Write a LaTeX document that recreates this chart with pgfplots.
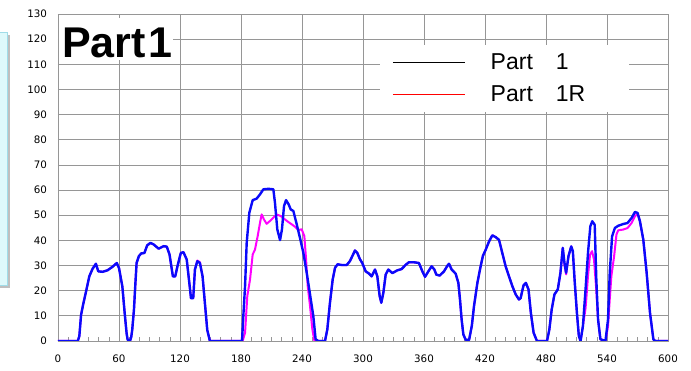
\documentclass[border=0pt]{standalone}
\usepackage{pgfplots}
\pgfplotsset{compat=1.18}
\usepackage{fontspec}
\setmainfont{Liberation Sans}
\newfontfamily\tickfont{DejaVu Sans}
\usetikzlibrary{calc}
\definecolor{gridgray}{RGB}{150,150,150}
\definecolor{p1blue}{RGB}{10,10,250}
\definecolor{p1mag}{RGB}{255,0,255}
\definecolor{boxfill}{RGB}{222,249,251}
\definecolor{boxedge}{RGB}{160,220,232}
\begin{document}
\begin{tikzpicture}
\begin{axis}[name=ax, at={(0,0)}, anchor=south west, scale only axis,
  width=610pt, height=327pt,
  xmin=0, xmax=600, ymin=0, ymax=130,
  xtick={0,60,...,600}, ytick={0,10,...,130},
  minor x tick num=5,
  grid=major, major grid style={gridgray, line width=0.8pt},
  axis line style={gridgray, line width=0.8pt},
  major tick length=0pt, minor tick length=4pt,
  minor tick style={gridgray, line width=0.6pt},
  tick align=inside, tick pos=left,
  ticklabel style={font=\tickfont\fontsize{10.3}{12}\selectfont},
  /pgf/number format/assume math mode=true,
  xticklabel style={yshift=-10pt},
  yticklabel style={xshift=-7.5pt},
  legend style={at={(axis description cs:0.5279,0.905)}, anchor=north west,
    draw=none, fill=white, font=\fontsize{23}{23}\selectfont,
    inner xsep=12pt, inner ysep=8.5pt, row sep=15pt,
    nodes={inner sep=0pt},
    /tikz/every odd column/.append style={column sep=25pt}},
  legend cell align=left,
  legend image code/.code={\draw[#1] (0pt,0pt) -- (72pt,0pt);},
]
\addlegendimage{black, line width=1.5pt}
\addlegendentry{Part\quad 1}
\addlegendimage{red, line width=1.5pt}
\addlegendentry{Part\quad 1R\rule[-8.5pt]{32pt}{0pt}}

% Part 1R (magenta)
\addplot[forget plot, p1mag, line width=2pt, line join=round] coordinates {
(0,0) (19.5,0) (21,2) (22.7,10.4) (25,15) (27.6,19.7) (30.8,25.7) (34,28.7) (37.3,30.7) (39.6,27.7) (43.8,27.5) (48.7,28.1) (53.6,29.5) (57.8,31) (60,29) (63.3,21.7) (65.6,11) (67.5,3) (68.5,0.5) (70.8,0) (72,1.5) (73,4.4) (74.7,12.4) (76,22) (77.3,31) (79.5,33.7) (81.8,34.8) (85,35) (87.7,38) (90.9,39) (94,38.4) (99,36.7) (103.9,37.7) (107,37.5) (109.7,34.4) (113,25.7) (115.3,25.7) (117.5,29.7) (120.8,35) (123.4,35.3) (126.6,32.4) (129.2,23) (130.8,17) (133,17) (134.7,28.4) (137,32) (139.6,31.3) (142.2,25.7) (144.5,15) (146.8,4.4) (149.4,0)
(181.6,0) (184,3.3) (186.2,17.9) (188.9,24.5) (191.5,34.4) (193.8,36.4) (196.4,41.7) (198.7,47) (200.3,50.3) (202.6,48.3) (205.2,46.6) (208.5,47.7) (211.8,49) (215,50.3) (219,49.7) (223.3,48.3) (226.6,47.3) (229.8,46.4) (233.1,45.4) (236.4,44.1) (239.7,44.4) (242.3,41.7) (244,32.5) (245.6,21.9) (247.9,13.9) (250.2,4.6) (252.2,0)
(262.6,0) (264.9,4.6) (267.5,15.2) (270.2,24.5) (272.5,29.1) (275,30.5) (279,30.2) (284,30.2) (287.2,31.8) (289.8,34) (292.1,36) (294.4,35) (297,32.5) (299.3,31) (302.6,27.7) (305.9,26.8) (308.5,25.7) (311.8,28.4) (314.1,25.7) (316.4,17.8) (318,15.2) (320,19.1) (322.3,26.4) (324.9,28.4) (328.9,27) (333.8,28.1) (338,28.6) (342,30.3) (345.2,31.3) (350.2,31.3) (355,31) (358.4,27.7) (361,25.5) (364.3,27.7) (367.5,29.7) (370.2,28.4) (372.1,26.4) (375.4,26) (379.7,27.7) (383,29.9) (384.6,30.7) (387.2,28.4) (391.1,26.8) (393.8,23.1) (395.4,16.5) (397,8.6) (398.7,2.6) (401,0.5) (404.3,0.4) (407,5.9) (409.2,13.9) (412.5,23.1) (415.7,29.7) (418,33.9) (420.7,36.3) (424,39.6) (427.2,42) (430.5,41.3) (433.8,40.2) (437,35) (440.3,29.7) (443.6,25.7) (446.9,21.8) (450.2,18.5) (453.4,16.5) (455,17) (457.9,22.1) (460.2,23.1) (462.8,20.5) (465.1,11.2) (467.8,3.3) (471.1,0)
(481,0) (483.3,4.6) (485.6,12.5) (488.3,18.5) (491.6,20.5) (494.2,27.1) (496.5,37) (498.2,30) (499.8,26.5) (502.1,33.7) (504.8,37.6) (506.4,35.7) (508.1,24.4) (510.4,11.2) (512.3,2) (514,0) (516.3,5.9) (518.9,13) (519.6,16.5) (521.3,25.8) (523.3,34.3) (525.3,35.7) (527.2,32.4) (529.2,21.8) (531.2,8.6) (533.5,0.7) (538.5,0)
(541,5.9) (542.7,16.5) (544.3,25.8) (547,33.7) (549.3,42.3) (551,44) (555.9,44.3) (560.2,44.9) (564.2,46.9) (567.5,49.6) (569.1,50.2) (570.1,50.5) (572.4,47.6) (575.7,40.3) (579,27.1) (582.3,11.2) (585.6,0.7) (587.3,0) (600,0)
};

% Part 1 (blue)
\addplot[forget plot, p1blue, line width=2.4pt, line join=round] coordinates {
(0,0) (19.5,0) (21,2) (22.7,10.4) (25,15) (27.6,19.7) (30.8,25.7) (34,28.7) (37.3,30.7) (39.6,27.7) (43.8,27.5) (48.7,28.1) (53.6,29.5) (57.8,31) (60,29) (63.3,21.7) (65.6,11) (67.5,3) (68.5,0.5) (70.8,0) (72,1.5) (73,4.4) (74.7,12.4) (76,22) (77.3,31) (79.5,33.7) (81.8,34.8) (85,35) (87.7,38) (90.9,39) (94,38.4) (99,36.7) (103.9,37.7) (107,37.5) (109.7,34.4) (113,25.7) (115.3,25.7) (117.5,29.7) (120.8,35) (123.4,35.3) (126.6,32.4) (129.2,23) (130.8,17) (133,17) (134.7,28.4) (137,31.7) (139.6,31) (142.2,25.7) (144.5,15) (146.8,4.4) (149.4,0)
(181,0) (182.3,10) (184,21.9) (185.6,39) (188.2,51) (191.5,56) (195.4,56.6) (198.7,58.3) (202,60.3) (207,60.5) (211.8,60.3) (213.4,55) (215.7,44.4) (218.4,40.1) (220.3,44.4) (222.3,53.6) (224.3,56) (226.9,54.3) (228.9,52.3) (231.5,51.7) (234.8,46.4) (238,41) (241.3,35.1) (244.6,27.2) (247.9,18.5) (251.1,10) (253.4,0.7) (256,0)
(262.6,0) (264.9,4.6) (267.5,15.2) (270.2,24.5) (272.5,29.1) (275,30.5) (279,30.2) (284,30.2) (287.2,31.8) (289.8,34) (292.1,36) (294.4,35) (297,32.5) (299.3,31) (302.6,27.7) (305.9,26.8) (308.5,25.7) (311.8,28.4) (314.1,25.7) (316.4,17.8) (318,15.2) (320,19.1) (322.3,26.4) (324.9,28.4) (328.9,27) (333.8,28.1) (338,28.6) (342,30.3) (345.2,31.3) (350.2,31.3) (355,31) (358.4,27.7) (361,25.5) (364.3,27.7) (367.5,29.7) (370.2,28.4) (372.1,26.4) (375.4,26) (379.7,27.7) (383,29.9) (384.6,30.7) (387.2,28.4) (391.1,26.8) (393.8,23.1) (395.4,16.5) (397,8.6) (398.7,2.6) (401,0.5) (404.3,0.4) (407,5.9) (409.2,13.9) (412.5,23.1) (415.7,29.7) (418,33.9) (420.7,36.3) (424,39.6) (427.2,42) (430.5,41.3) (433.8,40.2) (437,35) (440.3,29.7) (443.6,25.7) (446.9,21.8) (450.2,18.5) (453.4,16.5) (455,17) (457.9,22.1) (460.2,23.1) (462.8,20.5) (465.1,11.2) (467.8,3.3) (471.1,0)
(481,0) (483.3,4.6) (485.6,12.5) (488.3,18.5) (491.6,20.5) (494.2,27.1) (496.5,37) (498.2,31) (499.8,27.1) (502.1,33.7) (504.8,37.6) (506.4,35.7) (508.1,24.4) (510.4,11.2) (512.3,2) (514,0) (516.3,5.9) (518.9,20.5) (521.3,35) (523.6,45.6) (525.5,47.6) (527.9,46.2) (529.5,24.4) (531.2,8.6) (533.5,0.7) (538.5,0)
(541,8.6) (542.7,27.1) (545,41.6) (547.7,44.9) (551,45.8) (555.9,46.5) (560.2,46.9) (564.2,48.9) (567.5,51.3) (570.1,50.9) (572.4,47.6) (575.7,40.3) (579,27.1) (582.3,11.2) (585.6,0.7) (587.3,0) (600,0)
};

% title box
\fill[white] (axis description cs:0.0015,0.859) rectangle (axis description cs:0.1885,0.988);
\node[anchor=base west, inner sep=0pt, font=\fontsize{43}{43}\selectfont\bfseries]
  at (axis description cs:0.0066,0.8676) {Part\kern3pt1};
\end{axis}
% partly hidden text box at left edge
\fill[black!25] ($(ax.south west)+(-72pt,53pt)$) rectangle ($(ax.south west)+(-48pt,306pt)$);
\filldraw[fill=boxfill, draw=boxedge, line width=0.8pt]
  ($(ax.south west)+(-74pt,56pt)$) rectangle ($(ax.south west)+(-50.5pt,309pt)$);
\pgfresetboundingbox
\path[use as bounding box] ($(ax.south west)+(-58pt,-30pt)$) rectangle ($(ax.south west)+(633pt,341pt)$);
\end{tikzpicture}
\end{document}
